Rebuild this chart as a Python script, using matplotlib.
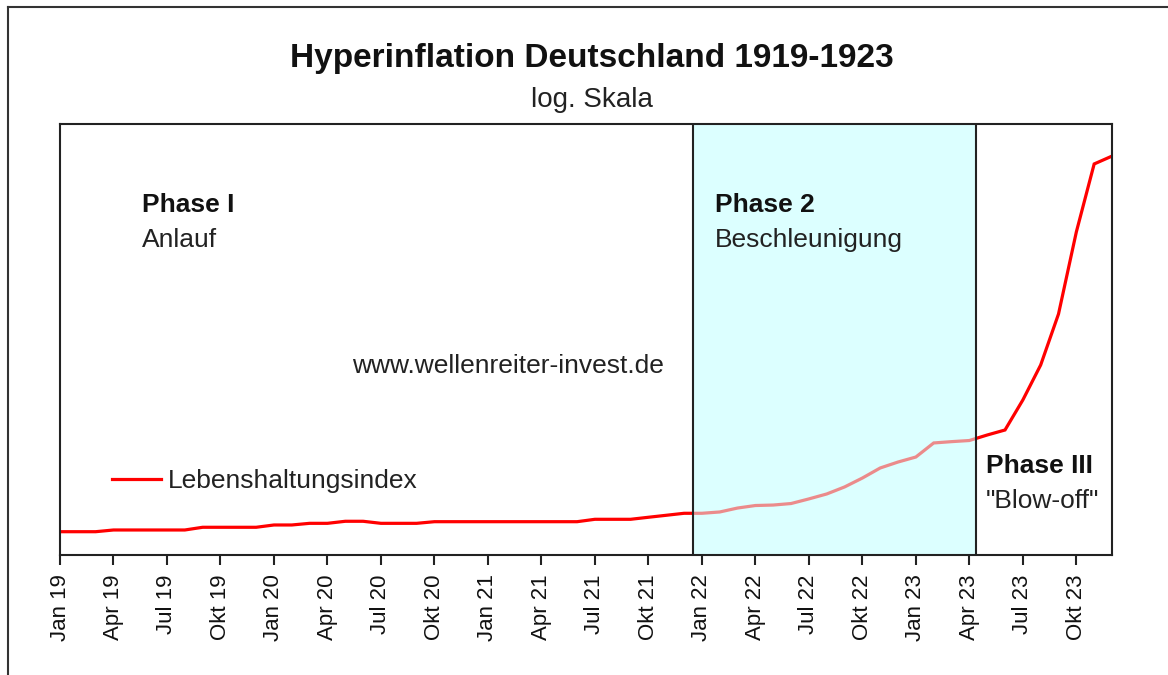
import numpy as np
import matplotlib
matplotlib.use("Agg")
import matplotlib.pyplot as plt
from matplotlib.lines import Line2D

plt.rcParams['font.family'] = ['Liberation Sans', 'DejaVu Sans']

# ---- data (monthly, Jan 1919 .. Dec 1923), log scale index ----
months = list(range(60))
index_values = [2.6, 2.6, 2.6,
                2.94, 2.94, 2.94, 2.94, 2.94,
                3.57, 3.57, 3.57, 3.57,
                4.21, 4.21,
                4.74, 4.74,
                5.49, 5.49,
                4.74, 4.74, 4.74,
                5.33, 5.33, 5.33, 5.33, 5.33, 5.33, 5.33, 5.33, 5.33,
                6.33, 6.33, 6.33,
                7.32, 8.44, 9.74, 9.74, 10.7, 14.2, 17.0, 17.6, 19.6,
                27.3, 38.9, 64.3, 122, 251, 385, 551, 1510, 1660, 1800,
                2670, 3830, 33000, 405000, 1.57e7, 5.64e9, 7.4e11, 1.3e12]
tick_positions = list(range(0, 60, 3))
tick_labels = [f"{m} {y}" for y in ["19", "20", "21", "22", "23"]
               for m in ["Jan", "Apr", "Jul", "Okt"]]
phase2_start = 35.5
phase3_start = 51.4
series_name = "Lebenshaltungsindex"

W, H = 1168, 675
fig = plt.figure(figsize=(W / 100, H / 100), dpi=100)
fig.patch.set_facecolor('white')

def fx(px):
    return px / W

def fy(py):
    return 1 - py / H

ax = fig.add_axes([fx(60), fy(555), fx(1112) - fx(60), fy(124) - fy(555)])
ax.set_yscale('log')
ax.set_xlim(0, 59)
ax.set_ylim(0.489, 1.3e13)

cyan = '#dcffff'
ax.axvspan(phase2_start, phase3_start, facecolor=cyan, edgecolor='none', zorder=1)
line, = ax.plot(months, index_values, color='#ff0000', lw=2.3, zorder=2,
                label=series_name, solid_joinstyle='miter')
ax.axvspan(phase2_start, phase3_start, facecolor=cyan, edgecolor='none',
           alpha=0.55, zorder=3)
for xv in (phase2_start, phase3_start):
    ax.axvline(xv, color='#222222', lw=1.5, zorder=4)

ax.set_xticks(tick_positions)
ax.set_xticklabels(tick_labels, rotation=90, fontsize=16, color='#111111')
ax.tick_params(axis='x', direction='out', length=7, width=1.5, pad=7,
               colors='#222222', labelcolor='#111111')
ax.yaxis.set_major_locator(matplotlib.ticker.NullLocator())
ax.yaxis.set_minor_locator(matplotlib.ticker.NullLocator())
ax.xaxis.set_minor_locator(matplotlib.ticker.NullLocator())
for s in ax.spines.values():
    s.set_color('#222222')
    s.set_linewidth(1.5)
    s.set_zorder(5)

leg = ax.legend(handles=[line], loc='center left',
                bbox_to_anchor=((112 - 60) / 1052, (555 - 481) / 431),
                frameon=False, borderpad=0, borderaxespad=0,
                handlelength=1.85, handletextpad=0.25, fontsize=19)
for t in leg.get_texts():
    t.set_color('#222222')

# titles
fig.text(fx(592), fy(67), "Hyperinflation Deutschland 1919-1923", ha='center',
         va='baseline', fontsize=24, fontweight='bold', color='#111111')
fig.text(fx(592), fy(107), "log. Skala", ha='center', va='baseline',
         fontsize=20, color='#222222')

# annotations
fig.text(fx(142), fy(212), "Phase I", ha='left', va='baseline', fontsize=19,
         fontweight='bold', color='#111111')
fig.text(fx(142), fy(247), "Anlauf", ha='left', va='baseline', fontsize=19,
         color='#222222')
fig.text(fx(715), fy(212), "Phase 2", ha='left', va='baseline', fontsize=19,
         fontweight='bold', color='#111111')
fig.text(fx(715), fy(247), "Beschleunigung", ha='left', va='baseline',
         fontsize=19, color='#222222')
fig.text(fx(986), fy(473), "Phase III", ha='left', va='baseline', fontsize=19,
         fontweight='bold', color='#111111')
fig.text(fx(986), fy(508), "\"Blow-off\"", ha='left', va='baseline',
         fontsize=19, color='#222222')
fig.text(fx(352), fy(373), "www.wellenreiter-invest.de", ha='left',
         va='baseline', fontsize=19, color='#222222')

# outer frame (left and top visible)
fig.add_artist(Line2D([fx(8), fx(8)], [0, fy(7)], color='#333333', lw=1.5))
fig.add_artist(Line2D([fx(8), 1], [fy(7), fy(7)], color='#333333', lw=1.5))

fig.savefig('out.png', dpi=100, facecolor='white')
